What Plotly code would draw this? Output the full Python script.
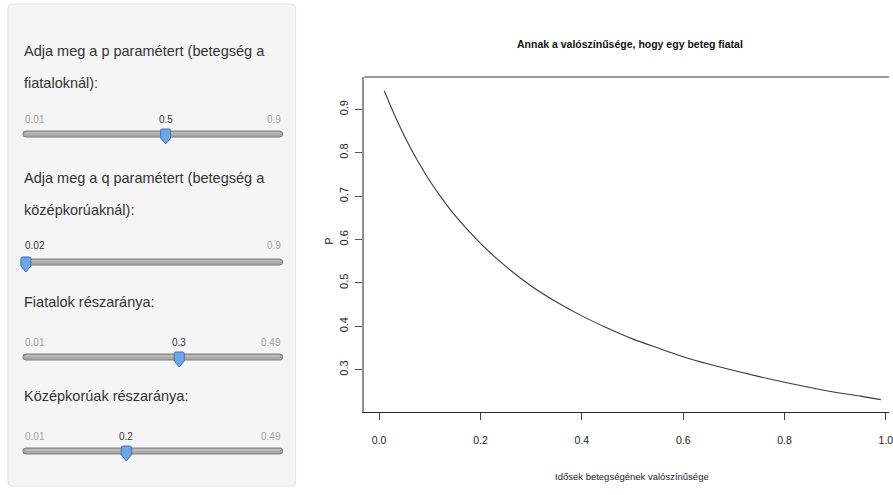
import plotly.graph_objects as go

# ---------------- data ----------------
x_vals = [0.01, 0.03, 0.05, 0.075, 0.10, 0.125, 0.15, 0.20, 0.25, 0.30, 0.35, 0.40,
          0.45, 0.50, 0.55, 0.60, 0.65, 0.70, 0.75, 0.80, 0.85, 0.90, 0.95, 0.99]
p_vals = [0.943, 0.888, 0.838, 0.783, 0.735, 0.693, 0.655, 0.591, 0.538, 0.493, 0.456, 0.424,
          0.396, 0.371, 0.350, 0.330, 0.313, 0.298, 0.284, 0.271, 0.259, 0.248, 0.239, 0.231]
x_ticks = [0.0, 0.2, 0.4, 0.6, 0.8, 1.0]
x_tick_text = ["0.0", "0.2", "0.4", "0.6", "0.8", "1.0"]
y_ticks = [0.3, 0.4, 0.5, 0.6, 0.7, 0.8, 0.9]
y_tick_text = ["0.3", "0.4", "0.5", "0.6", "0.7", "0.8", "0.9"]

slider_labels = [
    ["Adja meg a p paramétert (betegség a", "fiataloknál):"],
    ["Adja meg a q paramétert (betegség a", "középkorúaknál):"],
    ["Fiatalok részaránya:"],
    ["Középkorúak részaránya:"],
]
slider_min = [0.01, 0.02, 0.01, 0.01]
slider_max = [0.9, 0.9, 0.49, 0.49]
slider_value = [0.5, 0.02, 0.3, 0.2]
slider_min_text = ["0.01", "0.02", "0.01", "0.01"]
slider_max_text = ["0.9", "0.9", "0.49", "0.49"]
slider_value_text = ["0.5", "0.02", "0.3", "0.2"]

title = "Annak a valószínűsége, hogy egy beteg fiatal"
x_title = "Idősek betegségének valószínűsége"
y_title = "P"

# ---------------- layout helpers ----------------
W, H = 893, 495
def fx(px):
    return px / W
def fy(py):
    return 1 - py / H

SANS = "Liberation Sans, Arial, Helvetica"

fig = go.Figure()
fig.add_trace(go.Scatter(x=x_vals, y=p_vals, mode="lines",
                         line=dict(color="#3a3a3a", width=1.1, shape="spline"),
                         hoverinfo="skip", showlegend=False))

shapes = []
annotations = []

# sidebar panel
r = 4
x0, y0, x1, y1 = 8, 4, 297, 486
panel_path = (f"M {fx(x0+r)},{fy(y0)} L {fx(x1-r)},{fy(y0)} Q {fx(x1)},{fy(y0)} {fx(x1)},{fy(y0+r)} "
              f"L {fx(x1)},{fy(y1-r)} Q {fx(x1)},{fy(y1)} {fx(x1-r)},{fy(y1)} "
              f"L {fx(x0+r)},{fy(y1)} Q {fx(x0)},{fy(y1)} {fx(x0)},{fy(y1-r)} "
              f"L {fx(x0)},{fy(y0+r)} Q {fx(x0)},{fy(y0)} {fx(x0+r)},{fy(y0)} Z")
shapes.append(dict(type="path", xref="paper", yref="paper", path=panel_path,
                   fillcolor="#f5f5f5", line=dict(color="#e3e3e3", width=1), layer="below"))

label_line_y = [[51, 83], [178, 210], [302], [396]]
num_y = [119, 245, 342, 436]
track_y = [134, 262, 357, 451]
track_x0, track_x1 = 23, 284

for i in range(4):
    for j, line in enumerate(slider_labels[i]):
        annotations.append(dict(x=fx(22), y=fy(label_line_y[i][j]), xref="paper", yref="paper",
                                text=line, showarrow=False, xanchor="left", yanchor="middle",
                                font=dict(family=SANS, size=14.5, color="#333333")))
    frac = (slider_value[i] - slider_min[i]) / (slider_max[i] - slider_min[i])
    hx = track_x0 + 3 + frac * (track_x1 - track_x0 - 6)
    # numbers
    if abs(hx - track_x0) > 25:
        annotations.append(dict(x=fx(track_x0), y=fy(num_y[i]), xref="paper", yref="paper",
                                text=slider_min_text[i], showarrow=False, xanchor="left", yanchor="middle",
                                font=dict(family=SANS, size=10, color="#a0a0a0")))
        annotations.append(dict(x=fx(hx), y=fy(num_y[i]), xref="paper", yref="paper",
                                text=slider_value_text[i], showarrow=False, xanchor="center", yanchor="middle",
                                font=dict(family=SANS, size=10, color="#333333")))
    else:
        annotations.append(dict(x=fx(track_x0), y=fy(num_y[i]), xref="paper", yref="paper",
                                text=slider_value_text[i], showarrow=False, xanchor="left", yanchor="middle",
                                font=dict(family=SANS, size=10, color="#333333")))
    annotations.append(dict(x=fx(track_x1), y=fy(num_y[i]), xref="paper", yref="paper",
                            text=slider_max_text[i], showarrow=False, xanchor="right", yanchor="middle",
                            font=dict(family=SANS, size=10, color="#a0a0a0")))
    # track
    ty = track_y[i]
    tr = 3
    tpath = (f"M {fx(track_x0+tr)},{fy(ty-tr)} L {fx(track_x1-tr)},{fy(ty-tr)} "
             f"Q {fx(track_x1)},{fy(ty-tr)} {fx(track_x1)},{fy(ty)} Q {fx(track_x1)},{fy(ty+tr)} {fx(track_x1-tr)},{fy(ty+tr)} "
             f"L {fx(track_x0+tr)},{fy(ty+tr)} Q {fx(track_x0)},{fy(ty+tr)} {fx(track_x0)},{fy(ty)} "
             f"Q {fx(track_x0)},{fy(ty-tr)} {fx(track_x0+tr)},{fy(ty-tr)} Z")
    shapes.append(dict(type="path", xref="paper", yref="paper", path=tpath,
                       fillcolor="#a9a9a9", line=dict(color="#7c7c7c", width=1)))
    shapes.append(dict(type="line", xref="paper", yref="paper",
                       x0=fx(track_x0+3), x1=fx(track_x1-3), y0=fy(ty-1), y1=fy(ty-1),
                       line=dict(color="#c8c8c8", width=1)))
    # handle
    hy = ty - 5
    hpath = (f"M {fx(hx-5)},{fy(hy+1)} L {fx(hx-4)},{fy(hy)} L {fx(hx+4)},{fy(hy)} L {fx(hx+5)},{fy(hy+1)} "
             f"L {fx(hx+5)},{fy(hy+9)} L {fx(hx)},{fy(hy+15)} L {fx(hx-5)},{fy(hy+9)} Z")
    shapes.append(dict(type="path", xref="paper", yref="paper", path=hpath,
                       fillcolor="#6fa6e2", line=dict(color="#3d73b8", width=1)))

# top frame line of the plot box
shapes.append(dict(type="line", xref="paper", yref="paper", x0=fx(366), x1=1, y0=fy(77), y1=fy(77),
                   line=dict(color="#9a9a9a", width=2)))

# title and axis titles
annotations.append(dict(x=fx(633), y=fy(44), xref="paper", yref="paper", text=f"<b>{title}</b>",
                        showarrow=False, xanchor="center", yanchor="middle",
                        font=dict(family=SANS, size=10.5, color="#111111")))
annotations.append(dict(x=fx(635), y=fy(476), xref="paper", yref="paper", text=x_title,
                        showarrow=False, xanchor="center", yanchor="middle",
                        font=dict(family=SANS, size=9.5, color="#222222")))
annotations.append(dict(x=fx(330), y=fy(241), xref="paper", yref="paper", text=y_title,
                        showarrow=False, xanchor="center", yanchor="middle", textangle=-90,
                        font=dict(family=SANS, size=10.5, color="#222222")))

x_lo = -0.0292
x_hi = x_lo + (893 - 366) / 509.0
fig.update_layout(
    width=W, height=H,
    margin=dict(l=0, r=0, t=0, b=0),
    paper_bgcolor="white", plot_bgcolor="white",
    showlegend=False,
    shapes=shapes,
    annotations=annotations,
    xaxis=dict(domain=[fx(366), 1], range=[x_lo, x_hi], tickvals=x_ticks, ticktext=x_tick_text,
               showgrid=False, zeroline=False, showline=True, linecolor="#2a2a2a", linewidth=1.3,
               ticks="outside", ticklen=7, tickcolor="#444444", tickwidth=1,
               tickfont=dict(family=SANS, size=10.5, color="#222222"), ticklabelstandoff=11,
               ticklabeloverflow="allow"),
    yaxis=dict(domain=[fy(412), fy(77)], range=[0.2025, 0.9745], tickvals=y_ticks, ticktext=y_tick_text,
               showgrid=False, zeroline=False, showline=True, linecolor="#8f8f8f", linewidth=2,
               ticks="outside", ticklen=7, tickcolor="#555555", tickwidth=1, tickangle=-90,
               tickfont=dict(family=SANS, size=11, color="#222222"), ticklabelstandoff=3),
)

fig.write_html("out.html", config={"displayModeBar": False},
               post_script="document.body.style.margin='0';")
